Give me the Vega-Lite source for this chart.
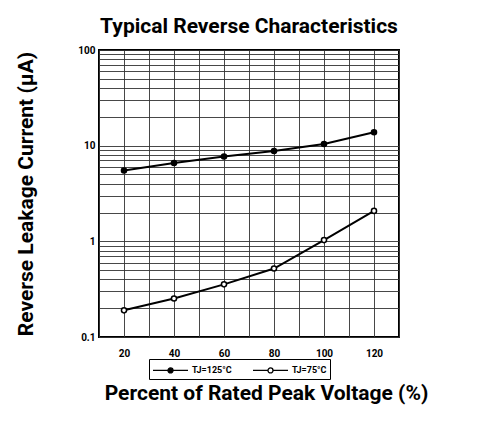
{
  "$schema": "https://vega.github.io/schema/vega-lite/v6.json",
  "width": 300,
  "height": 287,
  "autosize": {"type": "none"},
  "padding": {"left": 99, "top": 50, "right": 98, "bottom": 88},
  "background": "white",
  "title": {
    "text": "Typical Reverse Characteristics",
    "font": "Roboto",
    "fontSize": 21,
    "fontWeight": "bold",
    "color": "black",
    "offset": 8,
    "anchor": "middle"
  },
  "config": {
    "view": {"stroke": "black", "strokeWidth": 2},
    "axis": {
      "labelFont": "Roboto",
      "labelFontWeight": "bold",
      "labelFontSize": 10,
      "labelColor": "black",
      "titleFont": "Roboto",
      "titleFontWeight": "bold",
      "titleFontSize": 21,
      "titleColor": "black",
      "domain": false,
      "ticks": false,
      "grid": true,
      "gridColor": "#333",
      "gridWidth": 0.9
    }
  },
  "data": {
    "values": [
      {"v": 20, "i": 5.5, "s": "TJ=125°C"},
      {"v": 40, "i": 6.6, "s": "TJ=125°C"},
      {"v": 60, "i": 7.7, "s": "TJ=125°C"},
      {"v": 80, "i": 8.8, "s": "TJ=125°C"},
      {"v": 100, "i": 10.4, "s": "TJ=125°C"},
      {"v": 120, "i": 13.8, "s": "TJ=125°C"},
      {"v": 20, "i": 0.19, "s": "TJ=75°C"},
      {"v": 40, "i": 0.253, "s": "TJ=75°C"},
      {"v": 60, "i": 0.355, "s": "TJ=75°C"},
      {"v": 80, "i": 0.52, "s": "TJ=75°C"},
      {"v": 100, "i": 1.03, "s": "TJ=75°C"},
      {"v": 120, "i": 2.08, "s": "TJ=75°C"}
    ]
  },
  "encoding": {
    "x": {
      "field": "v",
      "type": "quantitative",
      "scale": {"domain": [10, 130], "nice": false, "zero": false},
      "axis": {
        "title": "Percent of Rated Peak Voltage (%)",
        "values": [10, 20, 30, 40, 50, 60, 70, 80, 90, 100, 110, 120, 130],
        "labelExpr": "datum.value % 20 == 0 && datum.value >= 20 && datum.value <= 120 ? datum.label : ''",
        "labelPadding": 11,
        "titlePadding": 24,
        "titleX": 167
      }
    },
    "y": {
      "field": "i",
      "type": "quantitative",
      "scale": {"type": "log", "domain": [0.1, 100], "nice": false},
      "axis": {
        "title": "Reverse Leakage Current (µA)",
        "values": [0.1, 0.2, 0.3, 0.4, 0.5, 0.6, 0.7, 0.8, 0.9, 1, 2, 3, 4, 5, 6, 7, 8, 9, 10, 20, 30, 40, 50, 60, 70, 80, 90, 100],
        "labelExpr": "datum.value == 0.1 || datum.value == 1 || datum.value == 10 || datum.value == 100 ? format(datum.value, '~g') : ''",
        "labelPadding": 4,
        "titlePadding": 41
      }
    }
  },
  "layer": [
    {
      "mark": {"type": "line", "color": "black", "strokeWidth": 2},
      "encoding": {"detail": {"field": "s"}}
    },
    {
      "mark": {"type": "point", "filled": true, "stroke": "black", "strokeWidth": 1.5, "opacity": 1, "size": 26},
      "encoding": {
        "fill": {
          "field": "s",
          "type": "nominal",
          "scale": {"domain": ["TJ=125°C", "TJ=75°C"], "range": ["black", "white"]},
          "legend": {
            "title": null,
            "orient": "none",
            "legendX": 50,
            "legendY": 309,
            "direction": "horizontal",
            "symbolType": "M-1,0L1.143,0M1.857,0L4,0M1.857,0A0.357,0.357 0 1,1 1.143,0A0.357,0.357 0 1,1 1.857,0",
            "symbolSize": 196,
            "symbolStrokeColor": "black",
            "symbolStrokeWidth": 1.3,
            "labelOffset": 24,
            "labelFont": "Roboto",
            "labelFontWeight": "bold",
            "labelFontSize": 9,
            "labelColor": "black",
            "columnPadding": 18,
            "strokeColor": "black",
            "padding": 3
          }
        }
      }
    }
  ]
}
